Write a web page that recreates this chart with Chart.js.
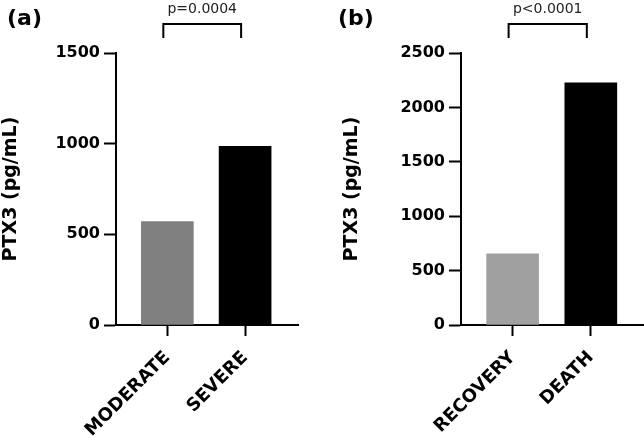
<!DOCTYPE html>
<html>
<head>
<meta charset="utf-8">
<script src="https://cdn.jsdelivr.net/npm/chart.js@4"></script>
<style>
  html, body { margin: 0; padding: 0; background: #fff; }
  #wrap { position: relative; width: 644px; height: 438px; }
  .panel { position: absolute; top: 0; width: 322px; height: 438px; }
</style>
</head>
<body>
<div id="wrap">
  <div class="panel" style="left:0"><canvas id="chartA"></canvas></div>
  <div class="panel" style="left:322px"><canvas id="chartB"></canvas></div>
</div>
<script>
// --- panel (a): severity ---
const severityLabels = ['MODERATE', 'SEVERE'];
const severityValues = [570, 985];
const severityColors = ['#808080', '#000000'];
const severityTicks = [0, 500, 1000, 1500];
const severityP = 'p=0.0004';

// --- panel (b): outcome ---
const outcomeLabels = ['RECOVERY', 'DEATH'];
const outcomeValues = [655, 2225];
const outcomeColors = ['#a0a0a0', '#000000'];
const outcomeTicks = [0, 500, 1000, 1500, 2000, 2500];
const outcomeP = 'p<0.0001';

Chart.defaults.font.family = '"DejaVu Sans", sans-serif';
Chart.defaults.color = '#000';

// bracket + p value + panel letter, drawn on top of the chart
function bracketPlugin(panel, pText, labelX) {
  return {
    id: 'bracket',
    afterDraw(chart) {
      const { ctx, chartArea, scales } = chart;
      const x0 = scales.x.getPixelForValue(0) - 4;
      const x1 = scales.x.getPixelForValue(1) - 4;
      const top = chartArea.top - 29;
      ctx.save();
      ctx.strokeStyle = '#000';
      ctx.lineWidth = 2;
      ctx.beginPath();
      ctx.moveTo(x0, top + 14);
      ctx.lineTo(x0, top);
      ctx.lineTo(x1, top);
      ctx.lineTo(x1, top + 14);
      ctx.stroke();

      ctx.fillStyle = '#222';
      ctx.font = '14px "DejaVu Sans"';
      ctx.textAlign = 'center';
      ctx.textBaseline = 'alphabetic';
      ctx.fillText(pText, (x0 + x1) / 2, top - 11);

      ctx.fillStyle = '#000';
      ctx.font = 'bold 22px "DejaVu Sans"';
      ctx.textAlign = 'left';
      ctx.textBaseline = 'middle';
      ctx.fillText(panel, labelX, 19);
      ctx.restore();
    }
  };
}

function makeChart(id, cats, values, colors, yTicks, panel, pText, opts) {
  return new Chart(document.getElementById(id), {
    type: 'bar',
    data: {
      datasets: [{
        data: values.map((v, i) => ({ x: i, y: v })),
        backgroundColor: colors,
        borderWidth: 0,
        barThickness: 52
      }]
    },
    options: {
      responsive: true,
      maintainAspectRatio: false,
      animation: false,
      layout: { padding: { top: 53, left: 0, right: opts.padRight, bottom: 0 } },
      plugins: { legend: { display: false }, tooltip: { enabled: false } },
      scales: {
        x: {
          type: 'linear',
          min: -0.66,
          max: 1.68,
          offset: false,
          z: 1,
          afterBuildTicks: s => { s.ticks = cats.map((c, i) => ({ value: i })); },
          afterFit: s => { s.height = 113; },
          grid: { offset: false, drawOnChartArea: false, tickLength: 11, tickWidth: 2, tickColor: '#000' },
          border: { color: '#000', width: 2 },
          ticks: {
            autoSkip: false, minRotation: 45, maxRotation: 45, padding: 11,
            color: '#000', font: { size: 18, weight: 'bold' },
            callback: v => cats[v]
          }
        },
        y: {
          min: 0,
          max: yTicks[yTicks.length - 1],
          z: 1,
          afterBuildTicks: s => { s.ticks = yTicks.map(v => ({ value: v })); },
          afterFit: s => { s.width = opts.yWidth; },
          grid: { drawOnChartArea: false, tickLength: 12, tickWidth: 2, tickColor: '#000' },
          border: { color: '#000', width: 2 },
          ticks: {
            padding: 4, color: '#000', font: { size: 16, weight: 'bold' },
            callback: v => String(v)
          },
          title: {
            display: true, text: 'PTX3 (pg/mL)', color: '#000',
            font: { size: 19, weight: 'bold' },
            padding: { top: opts.titlePad, bottom: 0 }
          }
        }
      }
    },
    plugins: [bracketPlugin(panel, pText, opts.labelX)]
  });
}

makeChart('chartA', severityLabels, severityValues, severityColors, severityTicks, '(a)', severityP,
  { padRight: 24, yWidth: 116, titlePad: 0, labelX: 7 });
makeChart('chartB', outcomeLabels, outcomeValues, outcomeColors, outcomeTicks, '(b)', outcomeP,
  { padRight: 0, yWidth: 139, titlePad: 19, labelX: 16 });
</script>
</body>
</html>
